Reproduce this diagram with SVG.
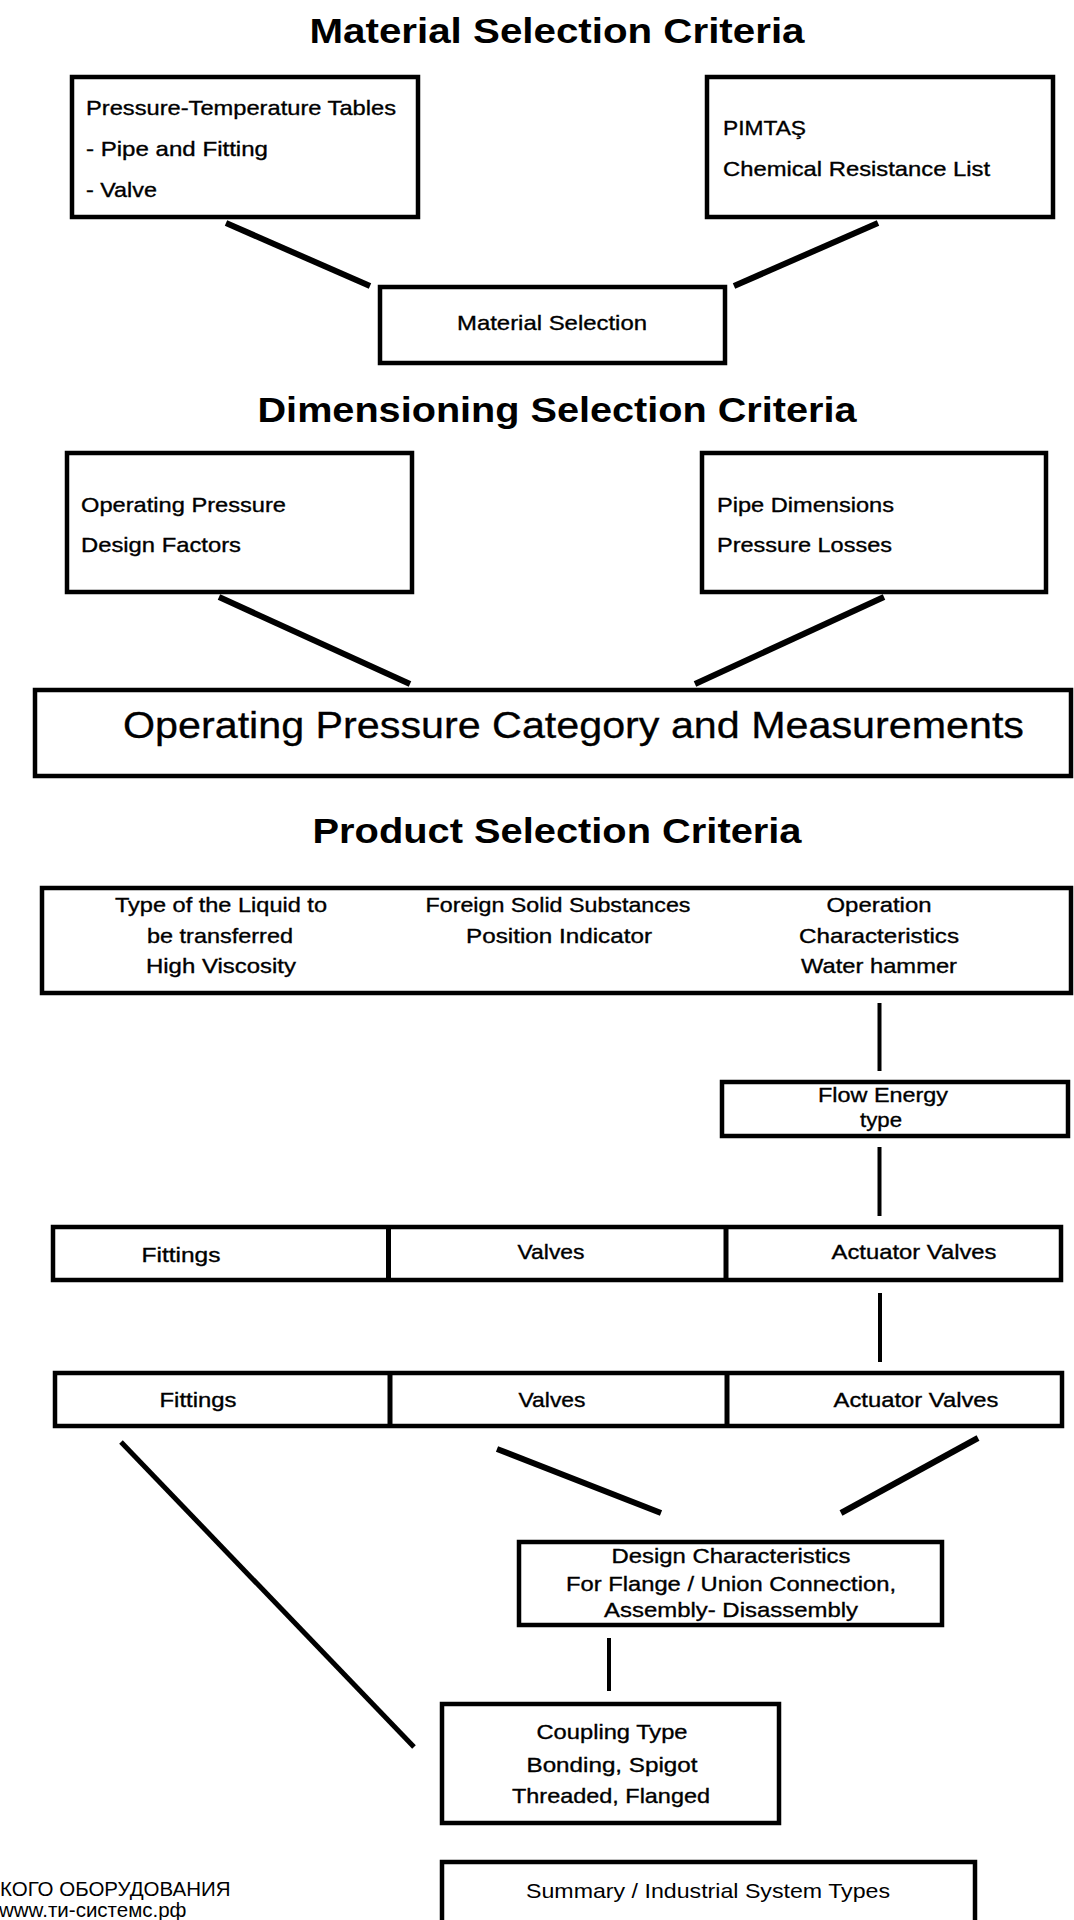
<svg xmlns="http://www.w3.org/2000/svg" width="1074" height="1920" viewBox="0 0 1074 1920">
<style>
.bg{fill:#fff}
.box{fill:#fff;stroke:#000;stroke-width:4.5}
.div{stroke:#000;stroke-width:5}
.t{font-family:"Liberation Sans",Arial,sans-serif;font-size:21px;fill:#000;stroke:#000;stroke-width:0.35}
.s{font-family:"Liberation Sans",Arial,sans-serif;font-size:21px;fill:#000}
.c{text-anchor:middle}
.h{font-family:"Liberation Sans",Arial,sans-serif;font-size:35px;font-weight:bold;fill:#000;text-anchor:middle}
.big{font-family:"Liberation Sans",Arial,sans-serif;font-size:36px;fill:#000;stroke:#000;stroke-width:0.3}
.ru{font-family:"Liberation Sans",Arial,"Noto Sans",sans-serif;font-size:20.5px;fill:#000}
.thick{stroke:#000;stroke-width:6;fill:none}
.mid{stroke:#000;stroke-width:5;fill:none}
.thin{stroke:#000;stroke-width:4;fill:none}
</style>
<rect class="bg" x="0" y="0" width="1074" height="1920"/>

<g id="titles">
<text class="h" x="557" y="43" textLength="495" lengthAdjust="spacingAndGlyphs">Material Selection Criteria</text>
<text class="h" x="557" y="422" textLength="599" lengthAdjust="spacingAndGlyphs">Dimensioning Selection Criteria</text>
<text class="h" x="557" y="843" textLength="489" lengthAdjust="spacingAndGlyphs">Product Selection Criteria</text>
</g>

<g id="connectors">
<line class="thick" x1="226" y1="223" x2="370" y2="286"/>
<line class="thick" x1="878" y1="223" x2="734" y2="286"/>
<line class="thick" x1="219" y1="597" x2="410" y2="684"/>
<line class="thick" x1="884" y1="597" x2="695" y2="684"/>
<line class="thin" x1="879.5" y1="1003" x2="879.5" y2="1071"/>
<line class="thin" x1="879.5" y1="1147" x2="879.5" y2="1216"/>
<line class="thin" x1="880" y1="1293" x2="880" y2="1362"/>
<line class="mid" x1="121" y1="1442" x2="414" y2="1747"/>
<line class="thick" x1="497" y1="1449" x2="661" y2="1513"/>
<line class="thick" x1="978" y1="1438" x2="841" y2="1513"/>
<line class="thin" x1="609" y1="1638" x2="609" y2="1691"/>
</g>

<g id="pressure-temperature">
<rect class="box" x="72" y="77" width="346" height="140"/>
<text class="t" x="86" y="115" textLength="310" lengthAdjust="spacingAndGlyphs">Pressure-Temperature Tables</text>
<text class="t" x="86" y="156" textLength="182" lengthAdjust="spacingAndGlyphs">- Pipe and Fitting</text>
<text class="t" x="86" y="197" textLength="71" lengthAdjust="spacingAndGlyphs">- Valve</text>
</g>

<g id="pimtas">
<rect class="box" x="707" y="77" width="346" height="140"/>
<text class="t" x="723" y="135" textLength="83" lengthAdjust="spacingAndGlyphs">PIMTAŞ</text>
<text class="t" x="723" y="176" textLength="267" lengthAdjust="spacingAndGlyphs">Chemical Resistance List</text>
</g>

<g id="material-selection">
<rect class="box" x="380" y="287" width="345" height="76"/>
<text class="t c" x="552" y="330" textLength="190" lengthAdjust="spacingAndGlyphs">Material Selection</text>
</g>

<g id="operating-pressure">
<rect class="box" x="67" y="453" width="345" height="139"/>
<text class="t" x="81" y="512" textLength="205" lengthAdjust="spacingAndGlyphs">Operating Pressure</text>
<text class="t" x="81" y="552" textLength="160" lengthAdjust="spacingAndGlyphs">Design Factors</text>
</g>

<g id="pipe-dimensions">
<rect class="box" x="702" y="453" width="344" height="139"/>
<text class="t" x="717" y="512" textLength="177" lengthAdjust="spacingAndGlyphs">Pipe Dimensions</text>
<text class="t" x="717" y="552" textLength="175" lengthAdjust="spacingAndGlyphs">Pressure Losses</text>
</g>

<g id="pressure-category">
<rect class="box" x="35" y="690" width="1036" height="86"/>
<text class="big" x="123" y="738" textLength="901" lengthAdjust="spacingAndGlyphs">Operating Pressure Category and Measurements</text>
</g>

<g id="product-criteria">
<rect class="box" x="42" y="888" width="1029" height="105"/>
<text class="t c" x="221" y="912" textLength="212" lengthAdjust="spacingAndGlyphs">Type of the Liquid to</text>
<text class="t c" x="220" y="943" textLength="146" lengthAdjust="spacingAndGlyphs">be transferred</text>
<text class="t c" x="221" y="973" textLength="150" lengthAdjust="spacingAndGlyphs">High Viscosity</text>
<text class="t c" x="558" y="912" textLength="265" lengthAdjust="spacingAndGlyphs">Foreign Solid Substances</text>
<text class="t c" x="559" y="943" textLength="186" lengthAdjust="spacingAndGlyphs">Position Indicator</text>
<text class="t c" x="879" y="912" textLength="105" lengthAdjust="spacingAndGlyphs">Operation</text>
<text class="t c" x="879" y="943" textLength="160" lengthAdjust="spacingAndGlyphs">Characteristics</text>
<text class="t c" x="879" y="973" textLength="156" lengthAdjust="spacingAndGlyphs">Water hammer</text>
</g>

<g id="flow-energy">
<rect class="box" x="722" y="1082" width="346" height="54"/>
<text class="t c" x="883" y="1102" textLength="130" lengthAdjust="spacingAndGlyphs">Flow Energy</text>
<text class="t c" x="881" y="1127" textLength="42" lengthAdjust="spacingAndGlyphs">type</text>
</g>

<g id="products-row-1">
<rect class="box" x="53" y="1227" width="1008" height="53"/>
<line class="div" x1="388.5" y1="1227" x2="388.5" y2="1280"/>
<line class="div" x1="726" y1="1227" x2="726" y2="1280"/>
<text class="t c" x="181" y="1262" textLength="79" lengthAdjust="spacingAndGlyphs">Fittings</text>
<text class="t c" x="551" y="1259" textLength="67" lengthAdjust="spacingAndGlyphs">Valves</text>
<text class="t c" x="914" y="1259" textLength="165" lengthAdjust="spacingAndGlyphs">Actuator Valves</text>
</g>

<g id="products-row-2">
<rect class="box" x="55" y="1373" width="1007" height="53"/>
<line class="div" x1="390" y1="1373" x2="390" y2="1426"/>
<line class="div" x1="727" y1="1373" x2="727" y2="1426"/>
<text class="t c" x="198" y="1407" textLength="77" lengthAdjust="spacingAndGlyphs">Fittings</text>
<text class="t c" x="552" y="1407" textLength="67" lengthAdjust="spacingAndGlyphs">Valves</text>
<text class="t c" x="916" y="1407" textLength="165" lengthAdjust="spacingAndGlyphs">Actuator Valves</text>
</g>

<g id="design-characteristics">
<rect class="box" x="519" y="1542" width="423" height="83"/>
<text class="t c" x="731" y="1563" textLength="239" lengthAdjust="spacingAndGlyphs">Design Characteristics</text>
<text class="t c" x="731" y="1591" textLength="330" lengthAdjust="spacingAndGlyphs">For Flange / Union Connection,</text>
<text class="t c" x="731" y="1617" textLength="254" lengthAdjust="spacingAndGlyphs">Assembly- Disassembly</text>
</g>

<g id="coupling-type">
<rect class="box" x="442" y="1704" width="337" height="119"/>
<text class="t c" x="612" y="1739" textLength="151" lengthAdjust="spacingAndGlyphs">Coupling Type</text>
<text class="t c" x="612" y="1772" textLength="171" lengthAdjust="spacingAndGlyphs">Bonding, Spigot</text>
<text class="t c" x="611" y="1803" textLength="198" lengthAdjust="spacingAndGlyphs">Threaded, Flanged</text>
</g>

<g id="summary">
<rect class="box" x="442" y="1862" width="533" height="100"/>
<text class="s c" x="708" y="1898" textLength="364" lengthAdjust="spacingAndGlyphs">Summary / Industrial System Types</text>
</g>

<g id="footer">
<text class="ru" x="0" y="1896">КОГО ОБОРУДОВАНИЯ</text>
<text class="ru" x="-1" y="1917">www.ти-системс.рф</text>
</g>
</svg>
